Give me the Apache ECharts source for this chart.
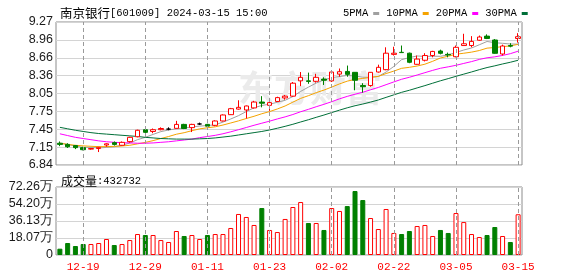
<!DOCTYPE html>
<html>
<head>
<meta charset="utf-8">
<title>南京银行 日K</title>
<script src="https://cdn.jsdelivr.net/npm/echarts@6/dist/echarts.min.js"></script>
<style>
  html, body { margin: 0; padding: 0; background: #fff; }
  #main { width: 578px; height: 276px; }
</style>
</head>
<body>
<div id="main"></div>
<script>
// 交易日
var dates = ['12-14', '12-15', '12-18', '12-19', '12-20', '12-21', '12-22', '12-25', '12-26', '12-27',
  '12-28', '12-29', '01-02', '01-03', '01-04', '01-05', '01-08', '01-09', '01-10', '01-11',
  '01-12', '01-15', '01-16', '01-17', '01-18', '01-19', '01-22', '01-23', '01-24', '01-25',
  '01-26', '01-29', '01-30', '01-31', '02-01', '02-02', '02-05', '02-06', '02-07', '02-08',
  '02-19', '02-20', '02-21', '02-22', '02-23', '02-26', '02-27', '02-28', '02-29', '03-01',
  '03-04', '03-05', '03-06', '03-07', '03-08', '03-11', '03-12', '03-13', '03-14', '03-15'];

var opens = [7.21, 7.19, 7.17, 7.135, 7.11, 7.12, 7.18, 7.22, 7.175, 7.237,
  7.32, 7.44, 7.41, 7.44, 7.45, 7.463, 7.53, 7.475, 7.537, 7.53,
  7.514, 7.588, 7.695, 7.79, 7.775, 7.81, 7.91, 7.854, 7.92, 7.98,
  8.01, 8.27, 8.27, 8.262, 8.30, 8.27, 8.385, 8.43, 8.415, 8.19,
  8.19, 8.42, 8.46, 8.72, 8.755, 8.74, 8.551, 8.62, 8.70, 8.777,
  8.72, 8.68, 8.87, 8.87, 8.96, 9.03, 8.964, 8.726, 8.87, 8.99];
var closes = [7.19, 7.15, 7.135, 7.10, 7.12, 7.14, 7.20, 7.19, 7.225, 7.31,
  7.43, 7.395, 7.44, 7.46, 7.45, 7.53, 7.46, 7.53, 7.537, 7.50,
  7.588, 7.69, 7.797, 7.82, 7.843, 7.91, 7.89, 7.90, 7.985, 8.01,
  8.23, 8.33, 8.26, 8.33, 8.28, 8.42, 8.425, 8.38, 8.28, 8.17,
  8.415, 8.50, 8.74, 8.74, 8.75, 8.585, 8.64, 8.70, 8.77, 8.738,
  8.71, 8.84, 8.90, 8.94, 9.015, 8.99, 8.738, 8.862, 8.86, 9.02];
var lows = [7.16, 7.13, 7.11, 7.09, 7.10, 7.06, 7.15, 7.17, 7.17, 7.22,
  7.31, 7.38, 7.38, 7.43, 7.43, 7.46, 7.45, 7.40, 7.52, 7.49,
  7.50, 7.58, 7.69, 7.78, 7.63, 7.80, 7.82, 7.76, 7.91, 7.95,
  8.00, 8.18, 8.22, 8.24, 8.20, 8.25, 8.34, 8.34, 8.11, 8.07,
  8.17, 8.41, 8.45, 8.70, 8.75, 8.57, 8.545, 8.60, 8.67, 8.72,
  8.67, 8.67, 8.87, 8.84, 8.95, 8.98, 8.73, 8.70, 8.84, 8.92];
var highs = [7.24, 7.21, 7.18, 7.15, 7.13, 7.15, 7.21, 7.24, 7.24, 7.32,
  7.44, 7.45, 7.46, 7.48, 7.48, 7.59, 7.54, 7.54, 7.56, 7.54,
  7.60, 7.70, 7.81, 7.94, 7.85, 7.93, 8.01, 7.96, 8.00, 8.03,
  8.25, 8.42, 8.41, 8.39, 8.33, 8.43, 8.48, 8.53, 8.42, 8.23,
  8.42, 8.545, 8.84, 8.85, 8.87, 8.75, 8.70, 8.74, 8.78, 8.80,
  8.75, 8.87, 9.07, 9.03, 9.04, 9.06, 8.98, 8.885, 8.91, 9.08];

// 均线(含窗口外历史数据, 按图读取)
var ma5 = [7.21, 7.19, 7.16, 7.14, 7.139, 7.129, 7.139, 7.15, 7.175, 7.213,
  7.271, 7.31, 7.36, 7.407, 7.435, 7.455, 7.468, 7.486, 7.501, 7.511,
  7.523, 7.569, 7.622, 7.679, 7.748, 7.812, 7.852, 7.873, 7.906, 7.939,
  8.003, 8.091, 8.163, 8.232, 8.286, 8.324, 8.343, 8.362, 8.353, 8.331,
  8.33, 8.345, 8.42, 8.515, 8.631, 8.665, 8.693, 8.685, 8.689, 8.687,
  8.712, 8.752, 8.794, 8.828, 8.883, 8.939, 8.918, 8.908, 8.896, 8.894];
var ma10 = [7.21, 7.19, 7.175, 7.165, 7.158, 7.152, 7.152, 7.157, 7.163, 7.175,
  7.199, 7.224, 7.254, 7.29, 7.324, 7.363, 7.389, 7.423, 7.454, 7.473,
  7.489, 7.519, 7.554, 7.59, 7.63, 7.668, 7.711, 7.748, 7.792, 7.843,
  7.908, 7.972, 8.018, 8.069, 8.113, 8.164, 8.218, 8.265, 8.295, 8.311,
  8.329, 8.346, 8.394, 8.436, 8.483, 8.5, 8.522, 8.553, 8.602, 8.659,
  8.688, 8.722, 8.739, 8.758, 8.785, 8.826, 8.836, 8.852, 8.863, 8.891];
var ma20 = [7.37, 7.34, 7.31, 7.29, 7.27, 7.25, 7.235, 7.225, 7.22, 7.215,
  7.21, 7.21, 7.215, 7.225, 7.235, 7.25, 7.265, 7.28, 7.305, 7.324,
  7.344, 7.371, 7.404, 7.44, 7.477, 7.515, 7.55, 7.585, 7.623, 7.658,
  7.698, 7.745, 7.786, 7.83, 7.871, 7.916, 7.964, 8.006, 8.043, 8.076,
  8.118, 8.158, 8.205, 8.252, 8.297, 8.331, 8.369, 8.409, 8.448, 8.484,
  8.508, 8.534, 8.566, 8.597, 8.634, 8.662, 8.678, 8.702, 8.732, 8.774];
var ma30 = [7.48, 7.455, 7.43, 7.41, 7.39, 7.375, 7.365, 7.355, 7.345, 7.335,
  7.325, 7.31, 7.30, 7.29, 7.285, 7.28, 7.28, 7.28, 7.285, 7.29,
  7.30, 7.315, 7.33, 7.35, 7.37, 7.39, 7.41, 7.435, 7.465, 7.497,
  7.532, 7.571, 7.609, 7.65, 7.689, 7.731, 7.772, 7.812, 7.847, 7.876,
  7.909, 7.945, 7.989, 8.032, 8.075, 8.11, 8.15, 8.189, 8.23, 8.271,
  8.308, 8.347, 8.384, 8.421, 8.46, 8.496, 8.525, 8.557, 8.586, 8.62];

// 成交量(手)
var volumes = [67000, 127500, 95600, 117000, 117000, 127500, 170000, 106000, 117000, 159000,
  223000, 212500, 212500, 159000, 138000, 255000, 202000, 212500, 170000, 212500,
  223000, 223000, 287000, 436000, 404000, 319000, 499000, 266000, 244000, 383000,
  510000, 563000, 340000, 340000, 266000, 499000, 468000, 520000, 680000, 584000,
  393000, 276000, 489000, 234000, 223000, 255000, 308000, 319000, 202000, 266000,
  234000, 446000, 350000, 223000, 191000, 212500, 297500, 202000, 138000, 432732];

var priceLabels = ['6.84', '7.15', '7.45', '7.75', '8.05', '8.36', '8.66', '8.96', '9.27'];
var volLabels = ['0', '18.07万', '36.13万', '54.20万', '72.26万'];
var maNames = ['5PMA', '10PMA', '20PMA', '30PMA'];

var UP = '#ff0000', DOWN = '#008000';
var priceMin = 6.84, priceStep = 0.30375;
var volStep = 180660;

function showTick(index) {
  return index % 8 === 3;
}

var kData = dates.map(function (d, i) {
  return [opens[i], closes[i], lows[i], highs[i]];
});
var volData = volumes.map(function (v, i) {
  var up = closes[i] >= opens[i];
  return {
    value: v,
    itemStyle: up ? { color: '#ffffff', borderColor: UP } : { color: DOWN, borderColor: DOWN }
  };
});

// 竖向虚线网格(对齐K线中心), 用类目序号
var vLines = [];
dates.forEach(function (d, i) {
  if (showTick(i)) vLines.push({ xAxis: i });
});
function gridMarks() {
  return {
    silent: true,
    symbol: ['none', 'none'],
    label: { show: false },
    lineStyle: { color: '#9a9a9a', type: [4, 3], width: 1 },
    data: vLines
  };
}

function maSeries(name, data, color, marks) {
  var s = {
    name: name,
    type: 'line',
    data: data,
    xAxisIndex: 0,
    yAxisIndex: 0,
    symbol: 'none',
    smooth: false,
    lineStyle: { width: 1, color: color },
    itemStyle: { color: color },
    z: 3
  };
  if (marks) s.markLine = gridMarks();
  return s;
}

var myChart = echarts.init(document.getElementById('main'));
var option = {
  animation: false,
  backgroundColor: '#ffffff',
  title: [{
    left: 55,
    top: 2,
    text: '{a|南京银行}{b|[601009] 2024-03-15 15:00}',
    textStyle: {
      fontWeight: 'normal',
      rich: {
        a: { fontFamily: 'Noto Sans CJK SC', fontSize: 12.5, fontWeight: 'normal', color: '#000' },
        b: { fontFamily: 'Liberation Mono', fontSize: 10.5, fontWeight: 'normal', color: '#000' }
      }
    }
  }, {
    left: 56,
    top: 170,
    text: '{a|成交量}{b|:' + volumes[volumes.length - 1] + '}',
    textStyle: {
      fontWeight: 'normal',
      rich: {
        a: { fontFamily: 'Noto Sans CJK SC', fontSize: 12, fontWeight: 'normal', color: '#000' },
        b: { fontFamily: 'Liberation Mono', fontSize: 10.5, fontWeight: 'normal', color: '#000' }
      }
    }
  }],
  legend: {
    left: 338,
    top: 3,
    align: 'right',
    icon: 'rect',
    itemWidth: 6,
    itemHeight: 3,
    itemGap: 7,
    selectedMode: false,
    data: maNames,
    textStyle: { fontFamily: 'Liberation Mono', fontSize: 10.5, color: '#000', padding: [0, 0, 0, 0] }
  },
  graphic: [{
    type: 'text',
    left: 238,
    top: 70,
    z: 1,
    silent: true,
    style: {
      text: '东方财富',
      fontFamily: 'Noto Sans CJK SC',
      fontWeight: 'bold',
      fontSize: 36,
      fill: '#ebebeb'
    }
  }],
  grid: [{
    left: 56, right: 56, top: 22, height: 143,
    show: true, borderColor: '#8c8c8c', borderWidth: 1,
    outerBoundsMode: 'none'
  }, {
    left: 56, right: 56, top: 187, height: 68,
    show: true, borderColor: '#8c8c8c', borderWidth: 1,
    outerBoundsMode: 'none'
  }],
  xAxis: [{
    type: 'category',
    gridIndex: 0,
    data: dates,
    axisLine: { show: false },
    axisTick: { show: false },
    axisLabel: { show: false },
    splitLine: { show: false }
  }, {
    type: 'category',
    gridIndex: 1,
    data: dates,
    axisLine: { show: false },
    axisTick: { show: false },
    axisLabel: {
      interval: showTick,
      color: '#ff0000',
      fontFamily: 'Liberation Mono',
      fontSize: 11,
      margin: 7
    },
    splitLine: { show: false }
  }],
  yAxis: [{
    type: 'value',
    gridIndex: 0,
    min: priceMin,
    max: 9.27,
    interval: priceStep,
    axisLine: { show: false },
    axisTick: { show: false },
    splitLine: { lineStyle: { color: '#d4d4d4' } },
    axisLabel: {
      margin: 3,
      color: '#1a1a1a',
      fontFamily: 'Liberation Sans',
      fontSize: 12.5,
      formatter: function (v) {
        return priceLabels[Math.round((v - priceMin) / priceStep)];
      }
    }
  }, {
    type: 'value',
    gridIndex: 1,
    min: 0,
    max: volStep * 4,
    interval: volStep,
    axisLine: { show: false },
    axisTick: { show: false },
    splitLine: { lineStyle: { color: '#d4d4d4' } },
    axisLabel: {
      margin: 3,
      color: '#1a1a1a',
      fontFamily: 'Liberation Sans',
      fontSize: 12.5,
      formatter: function (v) {
        return volLabels[Math.round(v / volStep)];
      }
    }
  }],
  series: [{
    name: '日K',
    type: 'candlestick',
    xAxisIndex: 0,
    yAxisIndex: 0,
    data: kData,
    barWidth: 5,
    z: 4,
    itemStyle: {
      color: '#ffffff',
      color0: DOWN,
      borderColor: UP,
      borderColor0: DOWN,
      borderColorDoji: '#000000',
      borderWidth: 1
    }
  },
    maSeries('5PMA', ma5, '#a0a0a0'),
    maSeries('10PMA', ma10, '#f5a300'),
    maSeries('20PMA', ma20, '#ff00ff'),
    maSeries('30PMA', ma30, '#006f38', true),
  {
    name: '成交量',
    type: 'bar',
    xAxisIndex: 1,
    yAxisIndex: 1,
    data: volData,
    barWidth: 5,
    z: 2,
    itemStyle: { borderWidth: 1 },
    markLine: gridMarks()
  }]
};
myChart.setOption(option);
</script>
</body>
</html>
